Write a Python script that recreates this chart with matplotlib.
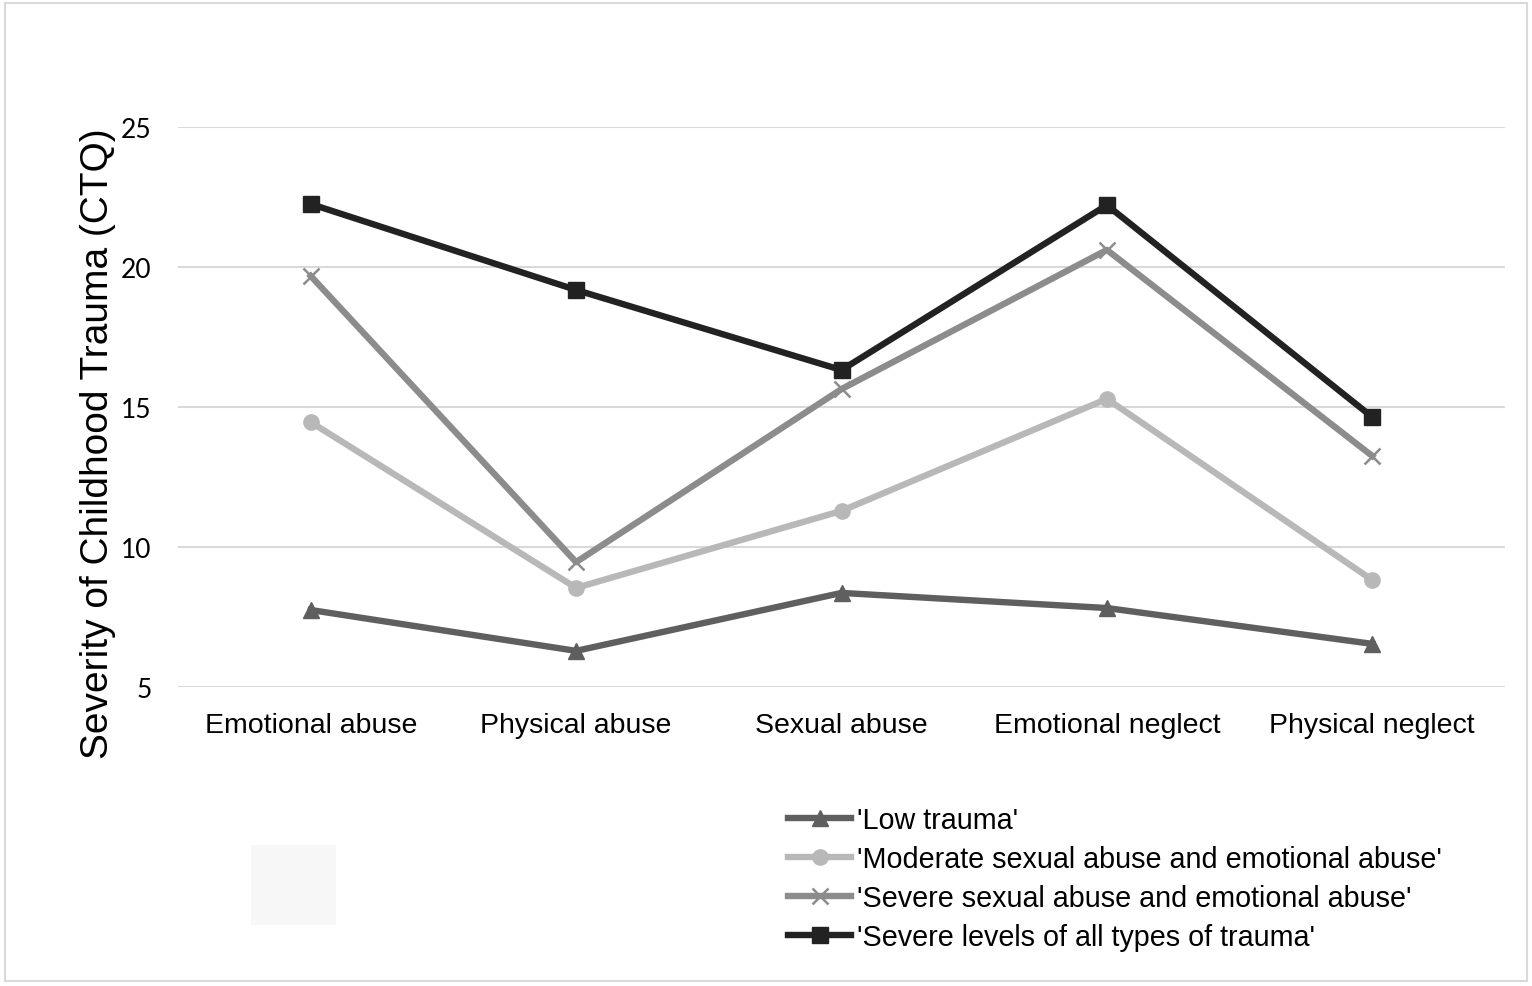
import numpy as np
import matplotlib.pyplot as plt
from matplotlib.patches import Rectangle

categories = ['Emotional abuse', 'Physical abuse', 'Sexual abuse', 'Emotional neglect', 'Physical neglect']
low = [7.75, 6.29, 8.36, 7.82, 6.54]
moderate = [14.46, 8.54, 11.29, 15.29, 8.82]
severe_sexual = [19.68, 9.46, 15.64, 20.61, 13.25]
severe_all = [22.25, 19.18, 16.32, 22.21, 14.64]
yticks = [5, 10, 15, 20, 25]

fig = plt.figure(figsize=(15.32, 9.87), dpi=100)
ax = fig.add_axes([178 / 1532, 1 - 688 / 987, (1505 - 178) / 1532, (688 - 128) / 987])

x = np.arange(len(categories))
ax.plot(x, low, c='#5f5f5f', lw=4.6, marker='^', ms=12, label="'Low trauma'")
ax.plot(x, moderate, c='#b8b8b8', lw=4.6, marker='o', ms=11, label="'Moderate sexual abuse and emotional abuse'")
ax.plot(x, severe_sexual, c='#8c8c8c', lw=4.6, marker='x', ms=12, mew=1.8, label="'Severe sexual abuse and emotional abuse'")
ax.plot(x, severe_all, c='#222222', lw=4.6, marker='s', ms=12, label="'Severe levels of all types of trauma'")

ax.set_xlim(-0.5, 4.5)
ax.set_ylim(5, 25)
ax.set_yticks(yticks)
ax.set_yticklabels([str(v) for v in yticks], fontfamily='Lato', fontsize=19)
ax.set_xticks(x)
ax.set_xticklabels(categories, fontfamily='Liberation Sans', fontsize=20.5)
ax.tick_params(axis='both', length=0)
ax.tick_params(axis='y', pad=19)
ax.tick_params(axis='x', pad=18)
ax.grid(axis='y', color='#d9d9d9', lw=1.5)
ax.set_axisbelow(True)
for s in ax.spines.values():
    s.set_visible(False)
ax.set_ylabel('Severity of Childhood Trauma (CTQ)', fontfamily='Liberation Sans', fontsize=28)
ax.yaxis.set_label_coords(-0.047, 0.436)

fig.legend(loc='upper left', bbox_to_anchor=(788 / 1532, 1 - 807 / 987), frameon=False,
           prop={'family': 'Liberation Sans', 'size': 20.7}, handlelength=2.2, handletextpad=0.2,
           labelspacing=0.38, borderpad=0, borderaxespad=0)

fig.patches.append(Rectangle((5 / 1532, 1 - 982 / 987), 1522 / 1532, 978 / 987, transform=fig.transFigure,
                             fill=False, ec='#d9d9d9', lw=1.5))
fig.patches.append(Rectangle((251 / 1532, 1 - 926 / 987), 85 / 1532, 80 / 987, transform=fig.transFigure,
                             fc='#f7f7f7', ec='none'))

fig.savefig('out.png', dpi=100)
